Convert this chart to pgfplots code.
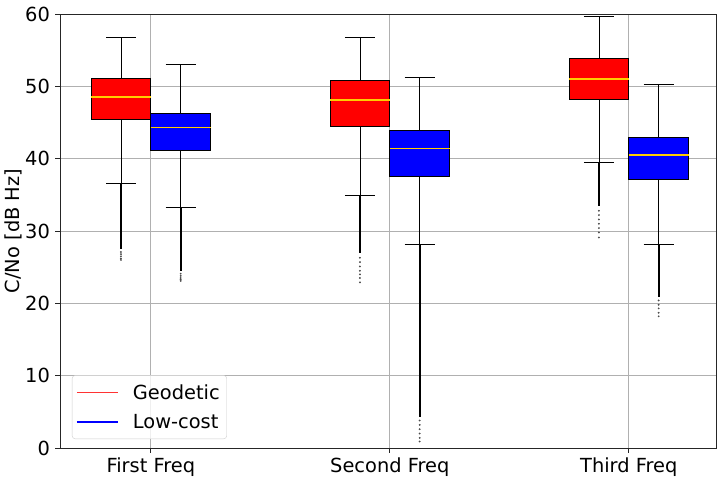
\documentclass[border=0pt]{standalone}
\usepackage{pgfplots}
\pgfplotsset{compat=1.18}
\usepackage{fontspec}
\setmainfont{DejaVu Sans}
\definecolor{med}{RGB}{255,204,0}
\definecolor{gridc}{RGB}{176,176,176}
\definecolor{legedge}{RGB}{204,204,204}
\newcommand{\fs}{\fontsize{19.4bp}{23bp}\selectfont}
% whiskers: center, cap left, cap right, lower whisker, Q1, Q3, upper whisker
\newcommand{\whisk}[7]{%
  \addplot[black, line width=0.8bp, forget plot] coordinates {(#1,#6) (#1,#7)};
  \addplot[black, line width=0.8bp, forget plot] coordinates {(#2,#7) (#3,#7)};
  \addplot[black, line width=0.8bp, forget plot] coordinates {(#1,#4) (#1,#5)};
  \addplot[black, line width=0.8bp, forget plot] coordinates {(#2,#4) (#3,#4)};
}
% box: colour, left, right, Q1, median, Q3
\newcommand{\boxx}[6]{%
  \addplot[fill=#1, draw=black, line width=0.8bp, line join=miter, forget plot]
    coordinates {(#2,#4) (#3,#4) (#3,#6) (#2,#6) (#2,#4)} -- cycle;
  \addplot[med, line width=1.6bp, forget plot] coordinates {(#2,#5) (#3,#5)};
}
\begin{document}
\begin{tikzpicture}
\begin{axis}[
  scale only axis, width=656bp, height=434bp,
  xmin=0.62, xmax=3.365, ymin=0, ymax=60,
  xtick={1,2,3}, xticklabels={First Freq, Second Freq, Third Freq},
  ytick={0,10,...,60},
  grid=major, grid style={gridc, line width=0.8bp},
  axis line style={black!85, line width=0.8bp},
  tick style={black!85, line width=0.8bp},
  tick align=outside, major tick length=4.9bp,
  xtick pos=bottom, ytick pos=left,
  tick label style={font=\fs},
  /pgf/number format/assume math mode=true,
  xticklabel style={inner sep=0pt, yshift=-5bp},
  yticklabel style={inner sep=0pt, xshift=-5bp},
  ylabel={C/No [dB Hz]}, ylabel style={font=\fs},
  legend style={at={(12bp,9bp)}, anchor=south west, draw=legedge, rounded corners=3bp,
    fill=white, fill opacity=0.8, text opacity=1, font=\fs,
    inner xsep=4bp, inner ysep=7bp, row sep=9.5bp,
    nodes={inner xsep=3bp, inner ysep=2bp}},
  legend cell align=left,
  legend image code/.code={\draw[#1, line width=1.5bp] (0bp,0bp) -- (41bp,0bp);
    \path[draw=none, fill=none] (53bp,0bp) circle (0pt);},
]
\addlegendimage{red!80}
\addlegendentry{Geodetic}
\addlegendimage{blue}
\addlegendentry{Low-cost}

% whiskers
\whisk{0.875}{0.8125}{0.9375}{36.6}{45.4}{51.1}{56.7}
\whisk{1.125}{1.0625}{1.1875}{33.2}{41.2}{46.3}{53.0}
\whisk{1.875}{1.8125}{1.9375}{34.9}{44.5}{50.8}{56.8}
\whisk{2.125}{2.0625}{2.1875}{28.2}{37.6}{43.9}{51.3}
\whisk{2.875}{2.8125}{2.9375}{39.5}{48.2}{53.9}{59.6}
\whisk{3.125}{3.0625}{3.1875}{28.2}{37.1}{43.0}{50.2}

% outlier runs (dense) and tails
\addplot[black, line width=2.2bp, forget plot] coordinates {(0.875,36.6) (0.875,27.5)};
\addplot[black, line width=2.2bp, forget plot] coordinates {(1.125,33.2) (1.125,24.5)};
\addplot[black, line width=2.2bp, forget plot] coordinates {(1.875,34.9) (1.875,26.9)};
\addplot[black, line width=2.2bp, forget plot] coordinates {(2.125,28.2) (2.125,4.3)};
\addplot[black, line width=2.2bp, forget plot] coordinates {(2.875,39.5) (2.875,33.4)};
\addplot[black, line width=2.2bp, forget plot] coordinates {(3.125,28.2) (3.125,20.9)};
\addplot[only marks, mark=*, mark size=0.7bp, black!70, forget plot] coordinates {
 (0.875,27.1) (0.875,26.8) (0.875,26.5) (0.875,26.2) (0.875,26.0)
 (1.125,24.1) (1.125,23.8) (1.125,23.5) (1.125,23.3) (1.125,23.1)
 (1.875,26.3) (1.875,25.7) (1.875,25.1) (1.875,24.5) (1.875,24.0) (1.875,23.5) (1.875,22.9)
 (2.125,3.8) (2.125,3.2) (2.125,2.6) (2.125,2.0) (2.125,1.4) (2.125,0.9)
 (2.875,32.8) (2.875,32.2) (2.875,31.6) (2.875,31.0) (2.875,30.4) (2.875,29.8) (2.875,29.1)
 (3.125,20.4) (3.125,19.8) (3.125,19.3) (3.125,18.7) (3.125,18.2)
};

% boxes and medians
\boxx{red}{0.75}{1.0}{45.4}{48.5}{51.1}
\boxx{blue}{1.0}{1.25}{41.2}{44.3}{46.3}
\boxx{red}{1.75}{2.0}{44.5}{48.1}{50.8}
\boxx{blue}{2.0}{2.25}{37.6}{41.4}{43.9}
\boxx{red}{2.75}{3.0}{48.2}{51.0}{53.9}
\boxx{blue}{3.0}{3.25}{37.1}{40.5}{43.0}
\end{axis}
\pgfresetboundingbox
\path ([xshift=-60bp,yshift=-29bp]current axis.south west) rectangle ([xshift=2bp,yshift=14bp]current axis.north east);
\end{tikzpicture}
\end{document}
